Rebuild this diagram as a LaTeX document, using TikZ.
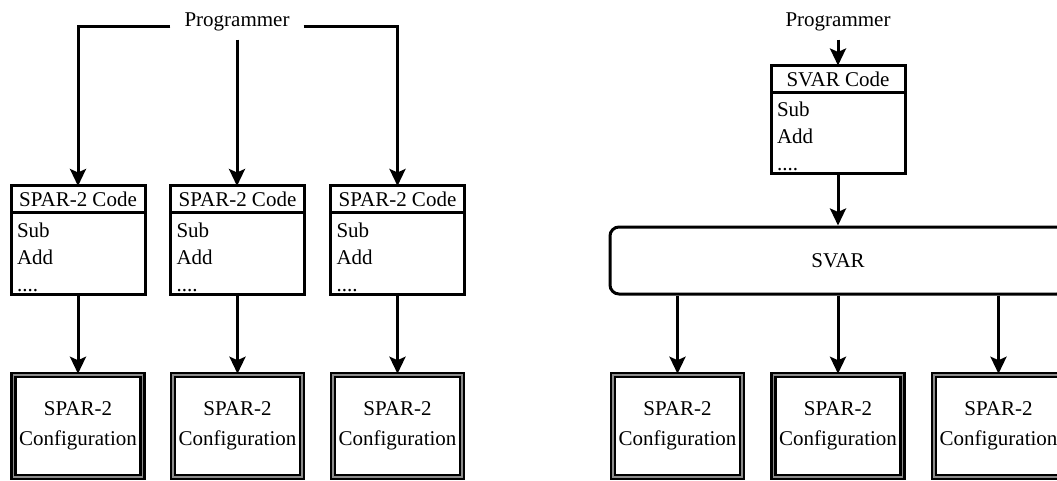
\documentclass[tikz,border=0pt]{standalone}
\usepackage{fontspec}
\setmainfont{Liberation Serif}
\usetikzlibrary{arrows.meta}
\begin{document}
\begin{tikzpicture}[x=1pt,y=-1pt,
  every node/.style={font=\fontsize{21}{27}\selectfont},
  actor/.style={inner xsep=14pt, inner ysep=8pt},
  hdr/.style={draw, line width=3pt, outer sep=0pt, minimum width=134pt, minimum height=27pt, inner sep=0pt},
  body/.style={draw, line width=3pt, outer sep=0pt, anchor=north, text width=122pt, inner xsep=6pt,
    inner ysep=0pt, minimum height=81pt, align=left},
  cfg/.style={draw, line width=2.5pt, double=black!45, double distance=1.4pt,
    minimum width=129pt, minimum height=102pt, inner sep=0pt, align=center},
  tool/.style={draw, line width=3pt, rounded corners=9pt, minimum width=456pt,
    minimum height=67pt, inner sep=0pt},
  arr/.style={line width=3pt, -{Stealth[length=17pt,width=16pt,inset=3.5pt]}},
]
\useasboundingbox (0,0) rectangle (1057,481);

% ---- direct SPAR-2 programming ----
\node[actor, anchor=base] (progL) at (237,27) {Programmer};

\foreach \i/\x in {1/78,2/237.5,3/397.5}{
  \node[hdr] (codeh\i) at (\x,199.5) {SPAR-2 Code};
  \node[body] (codeb\i) at (codeh\i.south) {\rule{0pt}{22pt}Sub\\Add\\....};
  \node[cfg] (cfgL\i) at (\x,426) {SPAR-2\\[3pt]Configuration};
  \draw[arr] (codeb\i.south) -- (cfgL\i.north);
}

\draw[arr] (progL.base west) -| (codeh1.north);
\draw[arr] (progL.south) -- (progL.south |- codeh2.north);
\draw[arr] (progL.base east) -| (codeh3.north);

% ---- programming through SVAR ----
\node[actor, anchor=base] (progR) at (838,27) {Programmer};
\node[hdr] (svh) at (838,79) {SVAR Code};
\node[body] (svb) at (svh.south) {\rule{0pt}{22pt}Sub\\Add\\....};
\node[tool] (svar) at (838,260.5) {SVAR};

\draw[arr] (progR.south) -- (svh.north);
\draw[arr] (svb.south) -- (svar.north);

\foreach \i/\x in {1/677.5,2/838,3/998.5}{
  \node[cfg] (cfgR\i) at (\x,426) {SPAR-2\\[3pt]Configuration};
  \draw[arr] (svar.south -| cfgR\i.north) -- (cfgR\i.north);
}
\end{tikzpicture}
\end{document}
